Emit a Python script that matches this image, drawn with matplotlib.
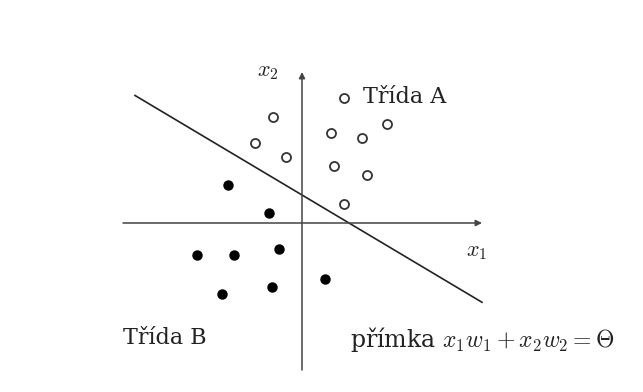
import matplotlib.pyplot as plt
import numpy as np

plt.rcParams['mathtext.fontset'] = 'cm'

# třída A (prázdná kolečka), třída B (plná)
a_x1 = [4.2, -2.9, 8.5, 2.9, 6.0, -4.7, -1.6, 3.2, 6.5, 4.2]
a_x2 = [12.5, 10.6, 9.9, 9.0, 8.5, 8.0, 6.6, 5.7, 4.8, 1.9]
b_x1 = [-7.4, -3.3, -10.5, -6.8, -2.3, -8.0, -3.0, 2.3]
b_x2 = [3.8, 1.0, -3.2, -3.2, -2.6, -7.1, -6.4, -5.6]

# přímka x1*w1 + x2*w2 = theta
w1, w2, theta = 0.596, 1.0, 2.8
line_x1 = [-16.7, 18.0]

fig = plt.figure(figsize=(6.43, 3.92), dpi=100)
ax = fig.add_axes([0, 0, 1, 1])
ax.set_xlim(-30.2, 34.1)
ax.set_ylim(-16.9, 22.3)
ax.axis('off')

axis_col = '#444444'
ax.annotate('', xy=(18.0, 0), xytext=(-17.9, 0),
            arrowprops=dict(arrowstyle='-|>', color=axis_col, lw=1.1,
                            mutation_scale=9, shrinkA=0, shrinkB=0))
ax.annotate('', xy=(0, 15.1), xytext=(0, -14.7),
            arrowprops=dict(arrowstyle='-|>', color=axis_col, lw=1.1,
                            mutation_scale=9, shrinkA=0, shrinkB=0))

lx = np.array(line_x1)
ax.plot(lx, (theta - w1 * lx) / w2, color='#222222', lw=1.2)

ax.plot(a_x1, a_x2, 'o', ms=6.5, mfc='white', mec='#333333', mew=1.3)
ax.plot(b_x1, b_x2, 'o', ms=6.5, mfc='black', mec='black')

serif = 'DejaVu Serif'
txt = '#222222'
ax.text(-3.4, 15.1, r'$x_2$', fontsize=16, ha='center', va='center', color=txt)
ax.text(17.5, -2.9, r'$x_1$', fontsize=16, ha='center', va='center', color=txt)
ax.text(6.1, 12.6, 'Třída A', fontsize=16, family=serif, ha='left', va='center', color=txt)
ax.text(-17.9, -11.5, 'Třída B', fontsize=16, family=serif, ha='left', va='center', color=txt)
ax.text(4.8, -11.7, r'přímka $x_1w_1 + x_2w_2 = \Theta$', fontsize=17, family=serif,
        ha='left', va='center', color=txt)

fig.savefig('out.png', dpi=100, facecolor='white')
